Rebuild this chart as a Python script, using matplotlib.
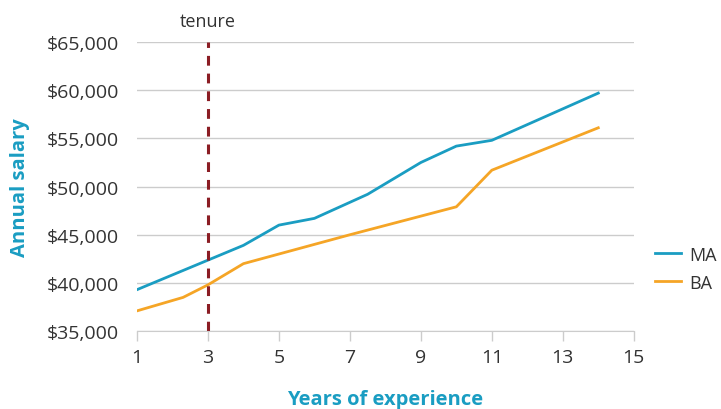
import matplotlib.pyplot as plt

# salary by years of experience
ma_years = [1, 4, 5, 6, 7.5, 9, 10, 11, 14]
ma_salary = [39300, 43900, 46000, 46700, 49200, 52500, 54200, 54800, 59700]
ba_years = [1, 2.3, 3, 4, 7, 10, 11, 14]
ba_salary = [37100, 38500, 39800, 42000, 45000, 47900, 51700, 56100]
tenure_year = 3

x_ticks = [1, 3, 5, 7, 9, 11, 13, 15]
y_ticks = [35000, 40000, 45000, 50000, 55000, 60000, 65000]

teal = "#1a9dc2"
orange = "#f5a526"
plt.rcParams["font.family"] = ["Open Sans", "DejaVu Sans"]

fig = plt.figure(figsize=(7.21, 4.10), dpi=100)
ax = fig.add_axes([0.190, 0.190, 0.689, 0.705])

ax.plot(ma_years, ma_salary, color=teal, lw=2, label="MA")
ax.plot(ba_years, ba_salary, color=orange, lw=2, label="BA")
ax.axvline(tenure_year, ymin=0, ymax=1.0, color="#8b1d24", lw=2.2, ls=(0, (3.2, 2.6)))
ax.text(tenure_year, 66200, "tenure", ha="center", va="bottom", fontsize=13, color="#333333")

ax.set_xlim(1, 15)
ax.set_ylim(35000, 65000)
ax.set_xticks(x_ticks)
ax.set_yticks(y_ticks)
ax.set_yticklabels(["${:,}".format(v) for v in y_ticks])
ax.grid(axis="y", color="#cccccc", lw=1)
ax.set_axisbelow(True)
for s in ["top", "right", "left"]:
    ax.spines[s].set_visible(False)
ax.spines["bottom"].set_color("#cccccc")
ax.tick_params(axis="x", colors="#cccccc", length=7, width=1, labelsize=14, labelcolor="#333333", pad=5)
ax.tick_params(axis="y", length=0, labelsize=14, labelcolor="#333333", pad=13)

ax.set_ylabel("Annual salary", color=teal, fontsize=14.5, fontweight="bold", labelpad=12)
ax.set_xlabel("Years of experience", color=teal, fontsize=14.5, fontweight="bold", labelpad=17)

ax.legend(loc="center left", bbox_to_anchor=(1.042, 0.216), frameon=False, fontsize=13,
          borderaxespad=0, borderpad=0, handlelength=1.45, handletextpad=0.45,
          labelspacing=0.55, labelcolor="#333333")

fig.savefig("out.png", dpi=100)
